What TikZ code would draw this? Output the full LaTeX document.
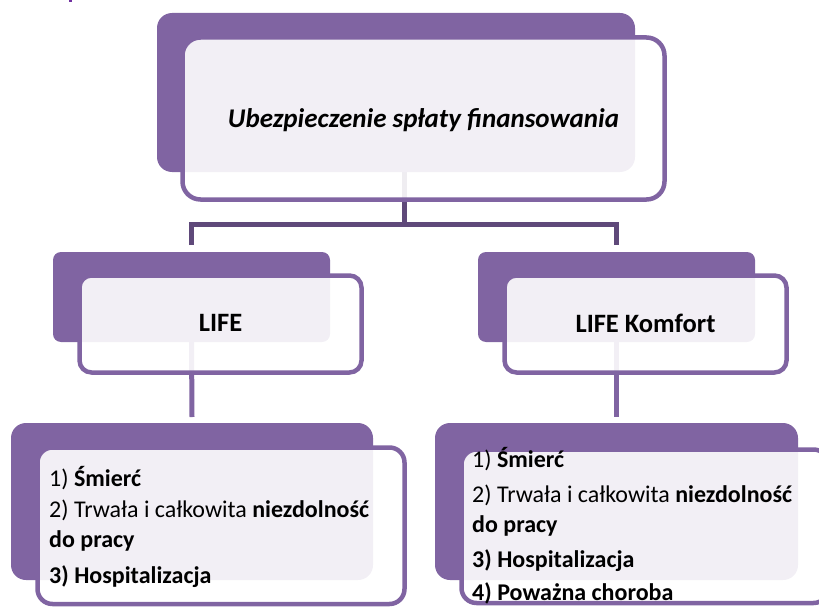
\documentclass[tikz,border=0pt]{standalone}
\usepackage{fontspec}
\setmainfont{Carlito}
\definecolor{purp}{HTML}{8064A2}
\definecolor{dpurp}{HTML}{5F497A}
\definecolor{markpurp}{HTML}{7030A0}
\pgfdeclarelayer{bg}
\pgfsetlayers{bg,main}
\tikzset{
  backbox/.style={rectangle, fill=purp, inner sep=0pt, outer sep=0pt},
  frontbox/.style={rectangle, draw=purp, line width=4.5pt, fill=white, fill opacity=0.9, inner sep=0pt, outer sep=0pt},
  conn/.style={draw=dpurp, line width=5pt},
  conntwo/.style={draw=purp, line width=5pt},
  txtline/.style={anchor=base west, inner sep=0pt, font=\fontsize{24}{28}\selectfont},
  head/.style={inner sep=0pt, font=\fontsize{26.5}{30}\selectfont\bfseries},
}
\begin{document}
\begin{tikzpicture}[x=1pt,y=-1pt]
\useasboundingbox (0,0) rectangle (819,607);
\fill[fill=markpurp] (69,0) rectangle (72,2);
% top
\node[backbox, rounded corners=15pt, minimum width=478pt, minimum height=159pt] (tb) at (396,92.5) {};
\node[frontbox, rounded corners=18pt, minimum width=482pt, minimum height=162pt] (tf) at (423.5,118.5) {};
\node[inner sep=0pt, font=\fontsize{27}{31}\selectfont\bfseries\itshape] (tt) at (423.5,120) {Ubezpieczenie spłaty finansowania};
% LIFE
\node[backbox, rounded corners=8pt, minimum width=277pt, minimum height=90pt] (lb) at (191.5,297) {};
\node[frontbox, rounded corners=12pt, minimum width=282pt, minimum height=97pt] (lf) at (220.5,324) {};
\node[head] (lt) at (220.5,323) {LIFE};
% LIFE Komfort
\node[backbox, rounded corners=8pt, minimum width=277pt, minimum height=90pt] (kb) at (616.5,297) {};
\node[frontbox, rounded corners=12pt, minimum width=282pt, minimum height=97pt] (kf) at (645.5,324) {};
\node[head] (kt) at (645.5,323) {LIFE Komfort};
% bottom left
\node[backbox, rounded corners=15pt, minimum width=362pt, minimum height=157pt] (bb) at (192,501.5) {};
\node[frontbox, rounded corners=15pt, minimum width=367pt, minimum height=156.5pt] (bf) at (221,525.75) {};
\node[txtline] (b1) at (49,486) {1) \textbf{Śmierć}};
\node[txtline] (b2) at (49,517) {2) Trwała i całkowita \textbf{niezdolność}};
\node[txtline] (b3) at (49,547) {\textbf{do pracy}};
\node[txtline] (b4) at (49,583) {\textbf{3) Hospitalizacja}};
% bottom right
\node[backbox, rounded corners=15pt, minimum width=363pt, minimum height=157pt] (rb) at (616.5,501.5) {};
\node[frontbox, rounded corners=15pt, minimum width=367pt, minimum height=153.5pt] (rf) at (645,526.25) {};
\node[txtline] (r1) at (472,467) {1) \textbf{Śmierć}};
\node[txtline] (r2) at (472,502) {2) Trwała i całkowita \textbf{niezdolność}};
\node[txtline] (r3) at (472,532) {\textbf{do pracy}};
\node[txtline] (r4) at (472,567) {\textbf{3) Hospitalizacja}};
\node[txtline] (r5) at (472,600) {\textbf{4) Poważna choroba}};
% connectors
\begin{pgfonlayer}{bg}
\coordinate (j) at (404,224);
\draw[conn] (tb.south -| j) -- (j);
\draw[conn] ([yshift=7pt]lb.north) |- (j) -| ([yshift=7pt]kb.north);
\draw[conntwo] (lb.south) -- ([yshift=6pt]bb.north);
\draw[conntwo] (kb.south) -- ([yshift=6pt]rb.north);
\end{pgfonlayer}
\end{tikzpicture}
\end{document}
